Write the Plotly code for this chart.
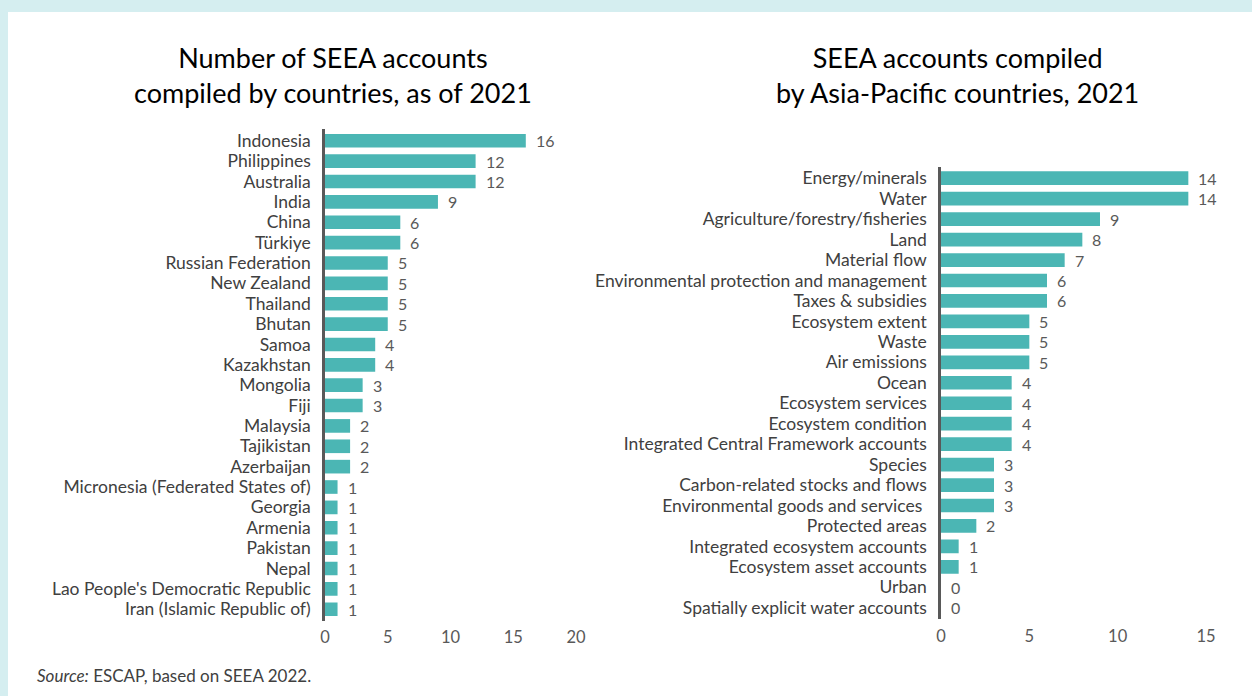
import plotly.graph_objects as go

W, H = 1252, 696

countries = ["Indonesia", "Philippines", "Australia", "India", "China", "Türkiye",
             "Russian Federation", "New Zealand", "Thailand", "Bhutan", "Samoa",
             "Kazakhstan", "Mongolia", "Fiji", "Malaysia", "Tajikistan", "Azerbaijan",
             "Micronesia (Federated States of)", "Georgia", "Armenia", "Pakistan",
             "Nepal", "Lao People's Democratic Republic", "Iran (Islamic Republic of)"]
country_counts = [16, 12, 12, 9, 6, 6, 5, 5, 5, 5, 4, 4, 3, 3, 2, 2, 2, 1, 1, 1, 1, 1, 1, 1]

accounts = ["Energy/minerals", "Water", "Agriculture/forestry/fisheries", "Land",
            "Material flow", "Environmental protection and management",
            "Taxes & subsidies", "Ecosystem extent", "Waste", "Air emissions", "Ocean",
            "Ecosystem services", "Ecosystem condition",
            "Integrated Central Framework accounts", "Species",
            "Carbon-related stocks and flows", "Environmental goods and services ",
            "Protected areas", "Integrated ecosystem accounts",
            "Ecosystem asset accounts", "Urban", "Spatially explicit water accounts"]
account_counts = [14, 14, 9, 8, 7, 6, 6, 5, 5, 5, 4, 4, 4, 4, 3, 3, 3, 2, 1, 1, 0, 0]

left_title = "Number of SEEA accounts<br>compiled by countries, as of 2021"
right_title = "SEEA accounts compiled<br>by Asia-Pacific countries, 2021"
left_ticks = [0, 5, 10, 15, 20]
right_ticks = [0, 5, 10, 15]

BAR = "#4bb6b4"
FONT = "Lato, 'Open Sans', sans-serif"
LBL = "#404040"
NUM = "#595959"


def px_x(p):
    return p / W


def px_y(p):
    return 1 - p / H


fig = go.Figure()
fig.add_trace(go.Bar(x=country_counts, y=countries, orientation="h",
                     marker=dict(color=BAR, line=dict(width=0)),
                     xaxis="x", yaxis="y", hoverinfo="x+y"))
fig.add_trace(go.Bar(x=account_counts, y=accounts, orientation="h",
                     marker=dict(color=BAR, line=dict(width=0)),
                     xaxis="x2", yaxis="y2", hoverinfo="x+y"))

annotations = []
for c, v in zip(countries, country_counts):
    annotations.append(dict(x=v, y=c, xref="x", yref="y", text=str(v), showarrow=False,
                            xanchor="left", xshift=8, font=dict(size=16, color=NUM, family=FONT)))
for c, v in zip(accounts, account_counts):
    annotations.append(dict(x=v, y=c, xref="x2", yref="y2", text=str(v), showarrow=False,
                            xanchor="left", xshift=8, font=dict(size=16, color=NUM, family=FONT)))

annotations.append(dict(x=px_x(333), y=px_y(75), xref="paper", yref="paper", text=left_title,
                        showarrow=False, xanchor="center", yanchor="middle",
                        font=dict(size=27, color="#000000", family=FONT)))
annotations.append(dict(x=px_x(957), y=px_y(75), xref="paper", yref="paper", text=right_title,
                        showarrow=False, xanchor="center", yanchor="middle",
                        font=dict(size=27, color="#000000", family=FONT)))
annotations.append(dict(x=px_x(35), y=px_y(675), xref="paper", yref="paper",
                        text="<i>Source:</i> ESCAP, based on SEEA 2022.",
                        showarrow=False, xanchor="left", yanchor="middle",
                        font=dict(size=17, color=LBL, family=FONT)))

axis_common = dict(showgrid=False, zeroline=False, showline=False, ticks="",
                   automargin=False, ticklabelstandoff=5,
                   tickfont=dict(size=16.5, color=NUM, family=FONT), fixedrange=True)
yaxis_common = dict(showgrid=False, zeroline=False, showline=True, linecolor="#595959",
                    linewidth=2.5, ticks="", autorange="reversed", type="category",
                    automargin=False,
                    tickfont=dict(size=17.5, color=LBL, family=FONT), ticklabelstandoff=8,
                    fixedrange=True)

fig.update_layout(
    width=W, height=H,
    margin=dict(l=0, r=0, t=0, b=0, pad=0),
    paper_bgcolor="#d5eef0", plot_bgcolor="rgba(0,0,0,0)",
    showlegend=False, bargap=0.33,
    font=dict(family=FONT),
    xaxis=dict(domain=[px_x(325), px_x(576)], range=[0, 20], tickvals=left_ticks,
               anchor="y", **axis_common),
    yaxis=dict(domain=[px_y(620.7), px_y(129.3)], anchor="x", tickmode="array",
               tickvals=countries, ticktext=countries, **yaxis_common),
    xaxis2=dict(domain=[px_x(941), px_x(1206)], range=[0, 15], tickvals=right_ticks,
                anchor="y2", **axis_common),
    yaxis2=dict(domain=[px_y(619.3), px_y(166.7)], anchor="x2", tickmode="array",
                tickvals=accounts, ticktext=accounts, **yaxis_common),
    annotations=annotations,
    shapes=[dict(type="rect", xref="paper", yref="paper", x0=px_x(8), x1=1.0,
                 y0=0, y1=px_y(12), fillcolor="white", line=dict(width=0), layer="below")],
)

fig.write_html("out.html", config={"displayModeBar": False},
               post_script="document.body.style.margin='0';document.body.style.overflow='hidden';")
